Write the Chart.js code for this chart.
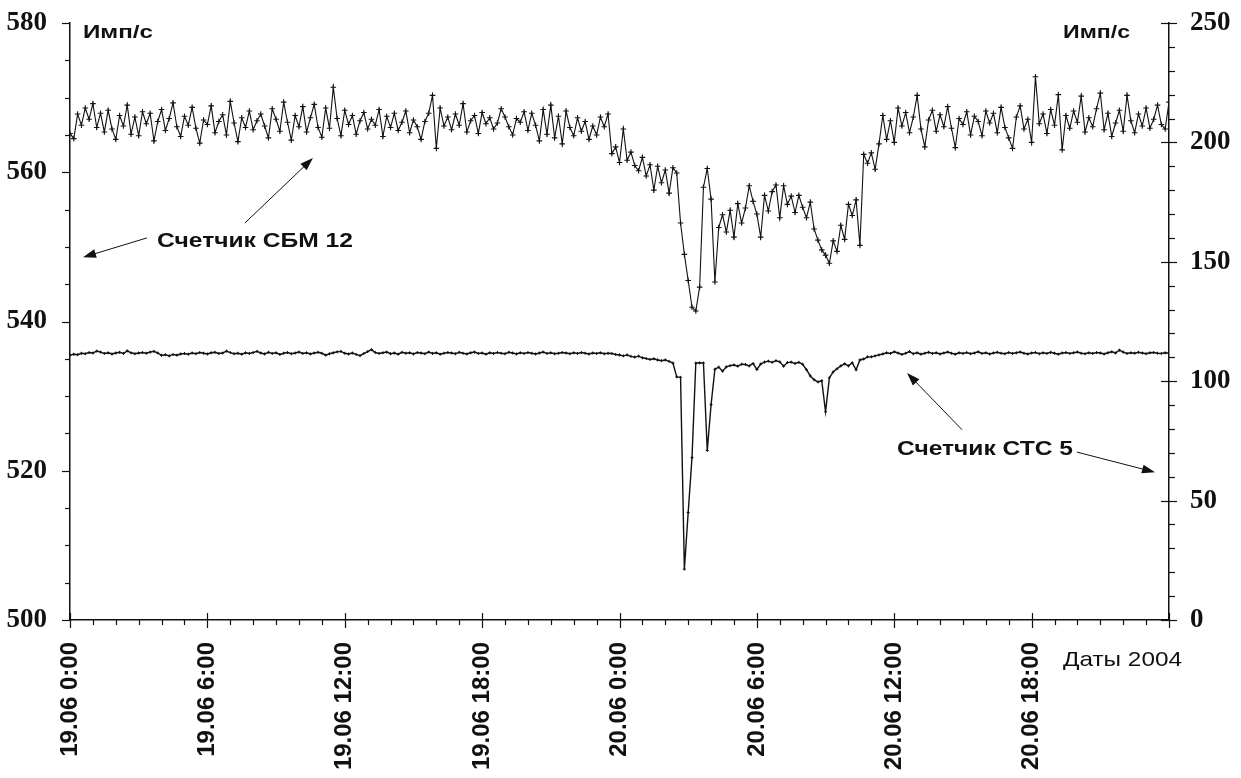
<!DOCTYPE html>
<html>
<head>
<meta charset="utf-8">
<script src="https://cdn.jsdelivr.net/npm/chart.js@4.4.1/dist/chart.umd.min.js"></script>
<style>
  html, body { margin: 0; padding: 0; background: #fff; }
  canvas { display: block; }
</style>
</head>
<body>
<canvas id="counts" width="1241" height="778"></canvas>
<script>
// 10-minute samples, 19.06 0:00 .. 21.06 0:00
const stepHours = 1 / 6;
const xTickLabels = ['19.06 0:00', '19.06 6:00', '19.06 12:00', '19.06 18:00',
  '20.06 0:00', '20.06 6:00', '20.06 12:00', '20.06 18:00'];

// СБМ 12, left axis (Имп/с)
const sbm12 = [
  565.2, 564.5, 567.8, 566.3, 568.6, 567.1, 569.2, 566.0, 567.9, 565.4,
  568.3, 565.8, 564.4, 567.6, 566.2, 569.0, 565.1, 567.4, 564.9, 568.1,
  566.5, 567.9, 564.2, 566.8, 568.4, 565.6, 567.2, 569.3, 566.1, 564.8,
  567.5, 566.3, 568.7, 565.9, 563.9, 567.0, 566.4, 568.9, 565.3, 566.8,
  567.7, 565.0, 569.5, 566.6, 564.1, 567.3, 566.0, 568.2, 565.7, 566.9,
  567.8, 566.2, 564.6, 568.5, 567.1, 565.5, 569.4, 566.7, 564.3, 567.6,
  566.1, 568.8, 565.4, 567.3, 569.1, 566.0, 564.7, 568.6, 565.9, 571.4,
  567.2, 564.9, 568.3, 566.4, 567.6, 565.1, 566.9, 568.0, 565.8, 567.1,
  566.3, 568.4, 564.8, 567.5, 566.0, 567.9, 565.6, 566.7, 568.2, 565.3,
  567.0, 566.1, 564.4, 566.8, 567.9, 570.3, 563.2, 568.6, 566.2, 567.4,
  565.7, 567.8, 566.3, 569.2, 565.4, 566.9, 567.6, 565.2, 568.0, 566.5,
  567.3, 565.8, 566.6, 568.5, 567.4, 566.1, 565.0, 567.2, 566.7, 568.1,
  565.6, 567.9, 566.3, 564.2, 568.4, 565.1, 569.0, 564.6, 567.5, 563.8,
  568.2, 566.0, 564.9, 567.3, 565.5, 566.8, 564.4, 566.2, 565.0, 567.4,
  566.1, 567.8,
  562.5, 563.4, 561.3, 565.8, 561.6, 562.7, 560.9, 560.2, 562.0, 559.5,
  561.0, 557.6, 560.8, 558.6, 560.3, 557.2, 560.6, 559.9, 553.2, 549.0,
  545.5, 541.9, 541.4, 544.6, 558.0, 560.5, 556.4, 545.3, 552.6, 554.3,
  552.0, 554.9, 551.3, 555.8, 553.2, 555.2, 558.2, 556.1, 554.4, 551.3,
  556.9, 554.8, 557.4, 558.3, 553.9, 558.2, 555.7, 556.8, 554.6, 556.9,
  555.3, 553.9, 556.0, 552.4, 550.9, 549.6, 548.9, 547.8, 550.8, 549.4,
  552.9, 551.0, 555.7, 554.2, 556.3, 550.2, 562.4, 561.2, 562.6, 560.4,
  563.8, 567.6, 564.4, 566.9, 564.0, 568.6, 566.2, 568.0, 565.3,
  567.4, 570.3, 565.8, 563.4, 567.0, 568.3, 565.5, 567.7, 566.1, 568.8,
  565.9, 563.3, 567.2, 566.4, 568.1, 565.0, 567.5, 566.8, 564.9, 568.2,
  566.6, 567.9, 565.3, 568.7, 566.0, 564.6, 563.2, 567.4, 568.9, 565.8,
  567.1, 564.0, 572.8, 566.5, 567.8, 565.2, 568.4, 566.3, 570.4, 563.0,
  567.6, 565.9, 568.2, 566.7, 570.2, 565.4, 567.3, 566.1, 568.5, 570.6,
  565.7, 567.9, 564.8, 566.6, 568.3, 565.5, 570.3, 566.9, 565.3, 567.8,
  566.2, 568.6, 565.9, 567.1, 569.0, 566.4, 565.8, 569.4
];

// СТС 5, right axis (Имп/с)
const sts5 = [
  110.9, 111.3, 111.1, 111.7, 111.5, 112.0, 111.8, 112.6, 112.2, 111.6,
  111.9, 111.4, 111.8, 112.1, 111.6, 112.7, 111.9, 111.5, 111.8, 112.0,
  111.7, 112.2, 112.5, 111.8, 110.8, 111.1, 110.6, 111.2, 110.9, 111.4,
  111.6, 111.3, 111.8, 111.5, 112.0, 111.7, 111.4, 111.9, 112.1, 111.6,
  111.8, 112.6, 112.0, 111.5, 111.7, 111.3, 111.9, 111.6, 112.0, 112.5,
  111.8, 111.4, 112.1, 111.6, 111.9, 111.2, 111.7, 112.0, 111.5, 111.8,
  112.2, 111.6, 111.9, 111.4, 111.8, 112.1, 111.7, 110.9, 111.5, 111.9,
  112.3, 112.5, 111.7, 111.4, 111.8, 111.2, 110.7, 111.6, 112.4, 113.2,
  112.0, 111.6, 111.9, 112.2, 111.5, 111.8, 111.3, 112.1, 111.7, 111.9,
  111.4, 112.0, 111.8, 111.5, 112.2, 111.6, 111.9, 111.3, 111.7, 112.0,
  111.8, 111.5, 112.1, 111.7, 111.4, 111.9, 112.2, 111.6, 111.8, 111.3,
  111.9, 111.6, 112.0, 111.7, 111.5, 112.1, 111.8, 111.4, 111.9, 111.6,
  112.0, 111.7, 111.4, 111.8, 112.2, 111.6, 111.9, 111.5, 111.7, 112.0,
  111.8, 111.5, 111.9, 111.6, 112.0, 111.7, 111.4, 111.8, 111.6, 111.9,
  111.5, 111.7,
  111.6, 111.2, 111.0, 110.6, 111.0, 110.4, 110.1, 110.5, 109.8, 109.5,
  109.1, 109.4, 108.9, 108.6, 108.9, 108.3,
  107.6, 101.8, 101.6, 21.3, 45.0, 68.0, 107.6, 107.7, 107.6, 71.0,
  90.2, 105.0,
  105.9, 104.2, 106.0, 106.5, 106.8, 106.3, 107.1, 107.0, 106.4, 107.4, 104.9,
  107.2, 108.0, 108.4, 107.9, 108.6, 108.1, 106.3, 107.8, 108.0, 107.4, 107.9, 107.1,
  104.8, 102.2, 100.6, 99.7, 100.2, 87.2, 101.4, 103.9, 105.2, 106.4,
  107.3, 106.4, 107.7, 104.8, 108.9, 109.3, 110.2, 110.2, 110.6,
  111.0, 111.4, 111.9, 111.6, 112.3, 111.8, 111.2, 111.7, 112.4, 111.5,
  111.9, 111.3, 111.7, 112.1, 111.6, 111.9, 111.4, 111.8, 112.2, 111.7,
  111.3, 111.9, 111.6, 112.0, 111.5, 111.8, 112.3, 111.6, 111.9, 111.4,
  111.8, 112.1, 111.7, 111.5, 112.0, 111.6, 111.9, 112.2, 111.7, 111.4,
  111.8, 112.0, 111.5, 111.9, 111.6, 112.1, 111.7, 111.3, 111.8, 112.0,
  111.6, 111.9, 112.2, 111.7, 111.5, 111.9, 111.6, 112.0, 111.8, 111.4,
  111.9, 112.3, 111.8, 113.0, 112.2, 111.6, 111.9, 111.7, 112.1, 111.8,
  111.5, 111.9, 112.0, 111.7, 111.6, 111.9, 111.7
];

const toPoints = arr => arr.map((v, i) => ({ x: i * stepHours, y: v }));

// stretched text so it fills a given width
function fitText(ctx, str, x, y, font, width, align) {
  ctx.save();
  ctx.font = font;
  const w = ctx.measureText(str).width;
  ctx.translate(x, y);
  ctx.scale(width / w, 1);
  ctx.textAlign = 'left';
  ctx.fillText(str, align === 'right' ? -w : 0, 0);
  ctx.restore();
}

function arrow(ctx, x1, y1, x2, y2) {
  const a = Math.atan2(y2 - y1, x2 - x1);
  ctx.beginPath();
  ctx.moveTo(x1, y1);
  ctx.lineTo(x2 - 8 * Math.cos(a), y2 - 8 * Math.sin(a));
  ctx.stroke();
  ctx.beginPath();
  ctx.moveTo(x2, y2);
  ctx.lineTo(x2 - 13 * Math.cos(a) + 4.5 * Math.sin(a), y2 - 13 * Math.sin(a) - 4.5 * Math.cos(a));
  ctx.lineTo(x2 - 13 * Math.cos(a) - 4.5 * Math.sin(a), y2 - 13 * Math.sin(a) + 4.5 * Math.cos(a));
  ctx.closePath();
  ctx.fill();
}

const extras = {
  id: 'extras',
  afterDraw(chart) {
    const { ctx, chartArea: a, scales: { x, y, y2 } } = chart;
    ctx.save();
    ctx.strokeStyle = '#111';
    ctx.fillStyle = '#111';
    ctx.lineWidth = 1.2;

    // x ticks: hourly minor, 6-hourly major
    for (let h = 0; h <= 48; h++) {
      const px = Math.round(x.getPixelForValue(h)) + 0.5;
      ctx.beginPath();
      if (h % 6 === 0) { ctx.moveTo(px, a.bottom - 7); ctx.lineTo(px, a.bottom + 8); }
      else { ctx.moveTo(px, a.bottom); ctx.lineTo(px, a.bottom + 5); }
      ctx.stroke();
    }
    // left ticks
    for (let v = 500; v <= 580; v += 5) {
      const py = Math.round(y.getPixelForValue(v)) + 0.5;
      ctx.beginPath();
      ctx.moveTo(a.left - (v % 20 === 0 ? 8 : 5), py);
      ctx.lineTo(a.left, py);
      ctx.stroke();
    }
    // right ticks
    for (let v = 0; v <= 250; v += 10) {
      const py = Math.round(y2.getPixelForValue(v)) + 0.5;
      ctx.beginPath();
      if (v % 50 === 0) { ctx.moveTo(a.right - 8, py); ctx.lineTo(a.right + 8, py); }
      else { ctx.moveTo(a.right, py); ctx.lineTo(a.right + 6, py); }
      ctx.stroke();
    }

    ctx.textBaseline = 'alphabetic';
    fitText(ctx, 'Имп/с', a.left + 13, a.top + 15, 'bold 18px "Liberation Sans", Arial', 70);
    fitText(ctx, 'Имп/с', a.right - 39, a.top + 15, 'bold 18px "Liberation Sans", Arial', 67, 'right');
    fitText(ctx, 'Даты 2004', a.right - 106, a.bottom + 46, '21px "Liberation Sans", Arial', 119);

    ctx.textBaseline = 'middle';
    fitText(ctx, 'Счетчик СБМ 12', x.getPixelForValue(3.8), y.getPixelForValue(550.8),
      'bold 21px "Liberation Sans", Arial', 196);
    fitText(ctx, 'Счетчик СТС 5', x.getPixelForValue(36.12), y.getPixelForValue(522.9),
      'bold 21px "Liberation Sans", Arial', 176);

    ctx.lineWidth = 1;
    const P = (h, v) => [x.getPixelForValue(h), y.getPixelForValue(v)];
    arrow(ctx, ...P(3.36, 551.2), ...P(0.57, 548.6));
    arrow(ctx, ...P(7.64, 553.2), ...P(10.61, 561.9));
    arrow(ctx, ...P(38.96, 525.5), ...P(36.56, 533.1));
    arrow(ctx, ...P(43.98, 522.5), ...P(47.39, 519.8));
    ctx.restore();
  }
};

const noPad = s => { s.paddingTop = 0; s.paddingBottom = 0; s.paddingLeft = 0; s.paddingRight = 0; };

const ctx = document.getElementById('counts').getContext('2d');

new Chart(ctx, {
  type: 'line',
  data: {
    datasets: [
      {
        label: 'Счетчик СБМ 12',
        data: toPoints(sbm12),
        yAxisID: 'y',
        borderColor: '#111',
        borderWidth: 1.1,
        pointStyle: 'cross',
        pointRadius: 2.8,
        pointBorderWidth: 1.1,
        pointBorderColor: '#111',
        tension: 0
      },
      {
        label: 'Счетчик СТС 5',
        data: toPoints(sts5),
        yAxisID: 'y2',
        borderColor: '#111',
        borderWidth: 1.4,
        pointStyle: 'cross',
        pointRadius: 1.5,
        pointBorderWidth: 1,
        pointBorderColor: '#111',
        tension: 0
      }
    ]
  },
  options: {
    responsive: false,
    animation: false,
    layout: { padding: { top: 23, left: 0, right: 0, bottom: 0 } },
    plugins: { legend: { display: false }, tooltip: { enabled: false } },
    scales: {
      x: {
        type: 'linear',
        min: 0,
        max: 48,
        afterFit: s => { s.height = 158; noPad(s); },
        grid: { display: false, drawTicks: false },
        border: { display: true, color: '#111', width: 1.5 },
        ticks: {
          stepSize: 6,
          autoSkip: false,
          minRotation: 90,
          maxRotation: 90,
          padding: 22,
          color: '#111',
          font: { family: '"Liberation Sans", Arial', weight: 'bold', size: 24 },
          callback: v => xTickLabels[v / 6] || ''
        }
      },
      y: {
        position: 'left',
        min: 500,
        max: 580,
        afterFit: s => { s.width = 70; noPad(s); },
        grid: { display: false, drawTicks: false },
        border: { display: true, color: '#111', width: 1.5 },
        ticks: {
          stepSize: 20,
          padding: 23,
          color: '#111',
          font: { family: '"Liberation Serif", "Times New Roman"', weight: 'bold', size: 27 }
        }
      },
      y2: {
        position: 'right',
        min: 0,
        max: 250,
        afterFit: s => { s.width = 72; noPad(s); },
        grid: { display: false, drawTicks: false },
        border: { display: true, color: '#111', width: 1.5 },
        ticks: {
          stepSize: 50,
          padding: 21,
          color: '#111',
          font: { family: '"Liberation Serif", "Times New Roman"', weight: 'bold', size: 27 }
        }
      }
    }
  },
  plugins: [extras]
});
</script>
</body>
</html>
